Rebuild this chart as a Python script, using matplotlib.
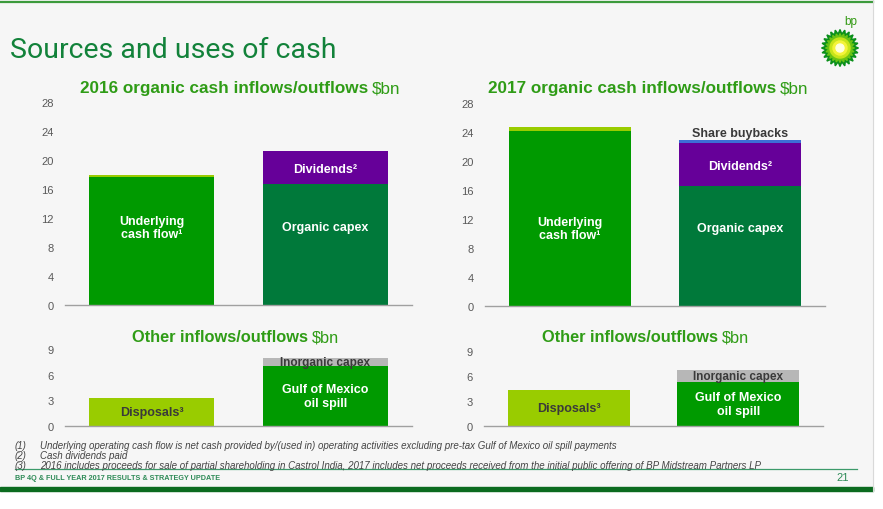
import numpy as np
import matplotlib
matplotlib.use("Agg")
import matplotlib.pyplot as plt
from matplotlib.patches import Rectangle, Polygon, Circle

plt.rcParams['font.family'] = ['Liberation Sans', 'DejaVu Sans']

# Data ($bn)
years = ['2016', '2017']
ucf = [17.7, 24.2]            # underlying cash flow
ucf_top = [0.3, 0.5]          # small light-green cap on inflow bar
organic_capex = [16.7, 16.6]
dividends = [4.5, 5.9]
buybacks = [0.0, 0.4]
disposals = [3.25, 4.3]
gom_spill = [7.0, 5.2]
inorganic_capex = [1.0, 1.45]

top_ticks = [0, 4, 8, 12, 16, 20, 24, 28]
bot_ticks = [0, 3, 6, 9]

footnotes = [
    ("(1)", "Underlying operating cash flow is net cash provided by/(used in) operating activities excluding pre-tax Gulf of Mexico oil spill payments"),
    ("(2)", "Cash dividends paid"),
    ("(3)", "2016 includes proceeds for sale of partial shareholding in Castrol India, 2017 includes net proceeds received from the initial public offering of BP Midstream Partners LP"),
]

# Colours
C_GREEN = '#009a00'
C_LIME = '#99cc00'
C_DARK = '#00793a'
C_PURPLE = '#660099'
C_BLUE = '#3d6fd6'
C_GREY = '#b7b7b7'
C_TITLE = '#2f9c16'
C_TICK = '#595959'
BG = '#f6f6f6'

W, H = 883, 510
fig = plt.figure(figsize=(W / 100, H / 100), dpi=100)
fig.patch.set_facecolor('white')

# background layer in pixel coordinates
bg = fig.add_axes([0, 0, 1, 1], zorder=0)
bg.set_xlim(0, W)
bg.set_ylim(H, 0)
bg.axis('off')
bg.add_patch(Rectangle((0, 0), 873, 492, color=BG, zorder=0))
bg.plot([0, 873], [2.5, 2.5], color='#3c9a3c', lw=1.6)
bg.plot([873, 873], [0, 492], color='#d9d9d9', lw=0.8)
bg.add_patch(Rectangle((0, 487.5), 873, 4.5, color='#0b6b1f', zorder=1))
bg.plot([15, 857], [470, 470], color='#3c9a6a', lw=0.9)

bg.text(10, 51, "Sources and uses of cash", fontsize=20.5, color='#12823a',
        family=['Roboto', 'DejaVu Sans'], fontweight='normal', va='center', ha='left')

# bp helios logo
cx, cy = 840, 49
ang = np.linspace(0, 2 * np.pi, 49)[:-1]
for R, r, col in [(18.5, 14, '#0a8f1a'), (14.5, 11, '#6cc414')]:
    rad = np.where(np.arange(48) % 2 == 0, R, r)
    bg.add_patch(Polygon(np.c_[cx + rad * np.cos(ang), cy + rad * np.sin(ang)],
                         closed=True, color=col, zorder=2))
for rr, col in [(10, '#c7e41a'), (7, '#f4f43a'), (4, '#ffffe0')]:
    bg.add_patch(Circle((cx, cy), rr, color=col, zorder=3))
bg.text(851, 22, "bp", fontsize=8.5, color='#339a14', ha='center', va='center')

# footnotes and footer
for i, (num, txt) in enumerate(footnotes):
    y = 446.5 + i * 10
    bg.text(15, y, num, fontsize=7, style='italic', color='#444444', va='center')
    bg.text(40, y, txt, fontsize=7, style='italic', color='#444444', va='center')
bg.text(15, 478.5, "BP 4Q & FULL YEAR 2017 RESULTS & STRATEGY UPDATE", fontsize=5.2,
        fontweight='bold', color='#2e8b57', va='center')
bg.text(843, 478.5, "21", fontsize=8, color='#2e8b57', va='center', ha='center')


def two_part_title(x_split, y, bold_txt, size):
    bg.text(x_split, y, bold_txt, fontsize=size, fontweight='bold', color=C_TITLE,
            ha='right', va='center')
    bg.text(x_split + 4, y, "$bn", fontsize=size, color=C_TITLE, ha='left', va='center')


def make_ax(x0, x1, y0, ytop, ymax, ticks):
    ax = fig.add_axes([x0 / W, (H - y0) / H, (x1 - x0) / W, (y0 - ytop) / H], zorder=2)
    ax.set_facecolor('none')
    ax.set_xlim(-0.5, 1.5)
    ax.set_ylim(0, ymax)
    for s in ['top', 'right', 'left']:
        ax.spines[s].set_visible(False)
    ax.spines['bottom'].set_color('#a0a0a0')
    ax.spines['bottom'].set_linewidth(1)
    ax.set_xticks([])
    ax.set_yticks(ticks)
    ax.tick_params(axis='y', length=0, pad=8, labelsize=8, labelcolor=C_TICK)
    return ax


bw = 0.72
lbl = dict(fontsize=9, fontweight='bold', ha='center', va='center', linespacing=1.2)

# top charts
top_axes = [make_ax(65, 412, 306, 103, 28, top_ticks),
            make_ax(485, 825, 307, 104, 28, top_ticks)]
for i, ax in enumerate(top_axes):
    ax.bar(0, ucf[i], bw, color=C_GREEN)
    ax.bar(0, ucf_top[i], bw, bottom=ucf[i], color=C_LIME)
    ax.bar(1, organic_capex[i], bw, color=C_DARK)
    ax.bar(1, dividends[i], bw, bottom=organic_capex[i], color=C_PURPLE)
    if buybacks[i] > 0:
        ax.bar(1, buybacks[i], bw, bottom=organic_capex[i] + dividends[i], color=C_BLUE)
        ax.text(1, organic_capex[i] + dividends[i] + buybacks[i] + 0.9, "Share buybacks",
                color='#3a3a3a', **lbl)
    ax.text(0, 10.7, "Underlying\ncash flow\u00b9", color='white', **lbl)
    ax.text(1, 10.8, "Organic capex", color='white', **lbl)
    ax.text(1, organic_capex[i] + dividends[i] * 0.45, "Dividends\u00b2", color='white', **lbl)

# bottom charts
bot_axes = [make_ax(65, 412, 426.7, 350.5, 9, bot_ticks),
            make_ax(484, 823, 426.7, 351.5, 9, bot_ticks)]
for i, ax in enumerate(bot_axes):
    ax.bar(0, disposals[i], bw, color=C_LIME)
    ax.bar(1, gom_spill[i], bw, color=C_GREEN)
    ax.bar(1, inorganic_capex[i], bw, bottom=gom_spill[i], color=C_GREY)
    ax.text(0, disposals[i] / 2, "Disposals\u00b3", color='#3a3a3a', **lbl)
    ax.text(1, gom_spill[i] / 2, "Gulf of Mexico\noil spill", color='white', **lbl)
    ax.text(1, gom_spill[i] + inorganic_capex[i] / 2, "Inorganic capex",
            color='#3a3a3a', **{**lbl, 'fontsize': 8.5})

two_part_title(368, 89, "2016 organic cash inflows/outflows", 12.3)
two_part_title(776, 89, "2017 organic cash inflows/outflows", 12.3)
two_part_title(308, 338, "Other inflows/outflows", 11.8)
two_part_title(718, 338, "Other inflows/outflows", 11.8)

fig.savefig("out.png", dpi=100, facecolor=fig.get_facecolor())
